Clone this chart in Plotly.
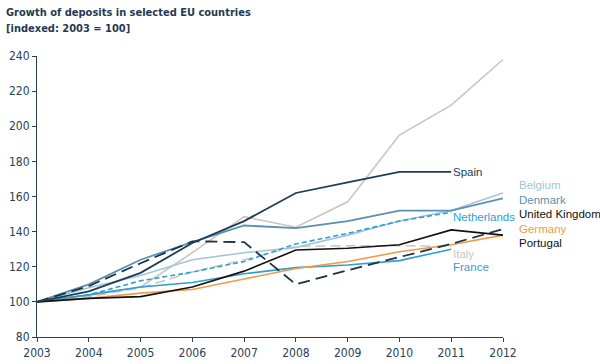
import plotly.graph_objects as go

years = [2003, 2004, 2005, 2006, 2007, 2008, 2009, 2010, 2011, 2012]

sweden = [100, 104, 108.5, 128, 148.5, 142.5, 157, 195, 212, 238]
spain = [100, 106, 116.5, 133.5, 146, 162, 168, 174, 174]
belgium = [100, 108, 115, 124, 128, 131, 138, 146, 152, 162]
denmark = [100, 110, 124, 134, 143.5, 142, 146, 152, 152, 159]
netherlands = [100, 104, 112, 117, 123, 133, 139, 146, 151]
united_kingdom = [100, 109, 122, 134.5, 134, 110, 118, 125.5, 133, 141.5]
germany = [100, 102, 105, 107, 113, 119, 123, 128.5, 132.5, 138]
portugal = [100, 102, 103, 108.5, 117.5, 129.5, 130.5, 132.5, 141, 138]
italy = [100, 103, 108, 117, 124, 131.5, 132, 132, 131.5]
france = [100, 104, 108.5, 111, 116, 119.5, 121, 123.5, 130]

series = [
    ("Sweden", sweden, "#c9c5c2", "solid", 1.6),
    ("Italy", italy, "#cbc6c4", "10px,5px", 1.6),
    ("Belgium", belgium, "#a3c4da", "solid", 1.6),
    ("Denmark", denmark, "#5b8fb1", "solid", 1.8),
    ("Netherlands", netherlands, "#2a9fd8", "5px,3px", 1.6),
    ("France", france, "#2a9fd8", "solid", 1.6),
    ("Germany", germany, "#f29a45", "solid", 1.6),
    ("Portugal", portugal, "#111111", "solid", 1.6),
    ("United Kingdom", united_kingdom, "#1d3347", "12px,6px", 1.8),
    ("Spain", spain, "#1f3d52", "solid", 1.8),
]

fig = go.Figure()
for name, vals, color, dash, w in series:
    fig.add_trace(go.Scatter(
        x=years[:len(vals)], y=vals, mode="lines", name=name,
        line=dict(color=color, width=w, dash=dash),
        showlegend=False, hoverinfo="skip",
    ))

# label placement: (text, x-year, shift px, y-value, color)
labels = [
    ("Sweden", 2012, 14, 241.7, "#c9c5c2"),
    ("Spain", 2011, 0, 174, "#1f3d52"),
    ("Belgium", 2012, 14, 166.5, "#a3c4da"),
    ("Denmark", 2012, 14, 158, "#5b8fb1"),
    ("Netherlands", 2011, 0, 148.3, "#2a9fd8"),
    ("United Kingdom", 2012, 14, 150, "#111111"),
    ("Germany", 2012, 14, 141.5, "#f29a45"),
    ("Portugal", 2012, 14, 133.5, "#111111"),
    ("Italy", 2011, 0, 127.3, "#cbc6c4"),
    ("France", 2011, 0, 119.9, "#2a9fd8"),
]
for text, xv, sh, yv, col in labels:
    fig.add_annotation(x=xv, y=yv, text=text, xanchor="left", yanchor="middle",
                       xshift=sh, showarrow=False,
                       font=dict(family="Liberation Sans, Arial", size=11.5, color=col))

fig.add_annotation(xref="paper", yref="paper", x=-33/466, y=1 + 43/281,
                   text="<b>Growth of deposits in selected EU countries</b>",
                   xanchor="left", yanchor="middle", showarrow=False,
                   font=dict(family="DejaVu Sans Condensed", size=11, color="#1f3a55"))
fig.add_annotation(xref="paper", yref="paper", x=-33/466, y=1 + 27/281,
                   text="<b>[indexed: 2003 = 100]</b>",
                   xanchor="left", yanchor="middle", showarrow=False,
                   font=dict(family="DejaVu Sans Condensed", size=11, color="#1f3a55"))

axis_color = "#2b4055"
fig.update_xaxes(range=[2003, 2012], tickvals=years, ticktext=[str(y) for y in years],
                 showgrid=False, zeroline=False, showline=True, linecolor=axis_color, linewidth=1.2,
                 ticks="outside", ticklen=4, tickcolor=axis_color, automargin=False,
                 tickfont=dict(family="DejaVu Sans Condensed", size=12, color=axis_color))
fig.update_yaxes(range=[80, 240], tickvals=list(range(80, 241, 20)),
                 showgrid=False, zeroline=False, showline=True, linecolor=axis_color, linewidth=1.2,
                 ticks="outside", ticklen=4, tickcolor=axis_color, automargin=False,
                 tickfont=dict(family="DejaVu Sans Condensed", size=12, color=axis_color))

fig.update_layout(width=600, height=364, margin=dict(l=37, r=97, t=56, b=27, autoexpand=False),
                  paper_bgcolor="white", plot_bgcolor="white")
fig.write_html("out.html", config={"displayModeBar": False},
               post_script="document.body.style.margin='0';document.body.style.overflow='hidden';")
